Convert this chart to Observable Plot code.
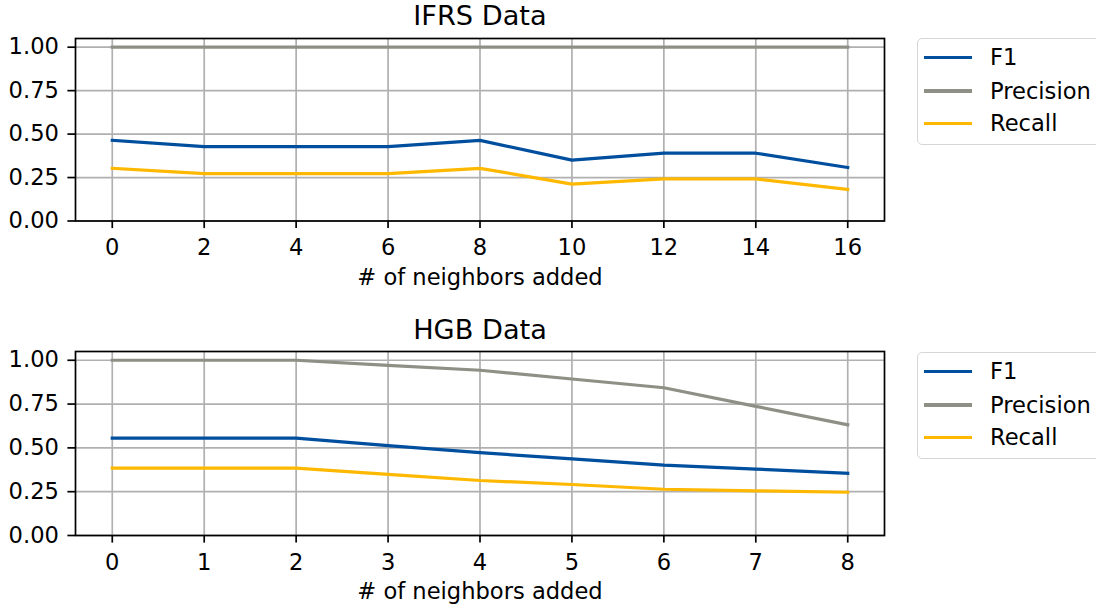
<!DOCTYPE html>
<html>
<head>
<meta charset="utf-8">
<script src="https://cdn.jsdelivr.net/npm/d3@7"></script>
<script src="https://cdn.jsdelivr.net/npm/@observablehq/plot@0.6"></script>
<style>
  body { margin: 0; background: white; }
  #wrap { position: relative; width: 1096px; height: 609px; overflow: hidden; background: white; font-family: "DejaVu Sans", sans-serif; }
  .panel { position: absolute; left: 0; }
  .legend { position: absolute; left: 917px; width: 200px; height: 107px; border: 1.5px solid #d6d6d6; border-radius: 5px; box-sizing: border-box; background: white; }
  .legend .row { position: absolute; left: 0; height: 0; }
  .legend .swatch { position: absolute; left: 6px; width: 48px; height: 3.2px; top: -1.6px; }
  .legend .lab { position: absolute; left: 72px; top: -13.5px; font-size: 22.6px; line-height: 27px; white-space: nowrap; color: #000; }
</style>
</head>
<body>
<div id="wrap"></div>
<script>
// ---- data ----
const metrics = ["F1", "Precision", "Recall"];
const metricColors = ["#004f9f", "#8e8f85", "#ffb800"];

const ifrsX = [0, 2, 4, 6, 8, 10, 12, 14, 16];
const ifrsF1 = [0.464, 0.428, 0.428, 0.428, 0.464, 0.350, 0.390, 0.390, 0.308];
const ifrsPrecision = [1, 1, 1, 1, 1, 1, 1, 1, 1];
const ifrsRecall = [0.303, 0.273, 0.273, 0.273, 0.303, 0.212, 0.242, 0.242, 0.182];

const hgbX = [0, 1, 2, 3, 4, 5, 6, 7, 8];
const hgbF1 = [0.556, 0.556, 0.556, 0.513, 0.473, 0.437, 0.402, 0.379, 0.355];
const hgbPrecision = [1, 1, 1, 0.971, 0.943, 0.893, 0.843, 0.737, 0.632];
const hgbRecall = [0.385, 0.385, 0.385, 0.349, 0.314, 0.291, 0.264, 0.255, 0.247];

const yTicks = [0, 0.25, 0.5, 0.75, 1.0];
const ifrsXTicks = [0, 2, 4, 6, 8, 10, 12, 14, 16];
const hgbXTicks = [0, 1, 2, 3, 4, 5, 6, 7, 8];

const xLabel = "# of neighbors added";

function makeRows(xs, f1, prec, rec) {
  const rows = [];
  const series = [f1, prec, rec];
  metrics.forEach((m, k) => xs.forEach((x, i) => rows.push({x, y: series[k][i], metric: m})));
  return rows;
}

function panel(opts) {
  const rows = makeRows(opts.xs, opts.f1, opts.prec, opts.rec);
  const pad = (opts.xs[opts.xs.length - 1] - opts.xs[0]) * 0.05;
  return Plot.plot({
    width: 1096,
    height: opts.height,
    marginLeft: 75,
    marginRight: 212,
    marginTop: opts.marginTop,
    marginBottom: opts.marginBottom,
    style: {fontFamily: "DejaVu Sans, sans-serif", fontSize: "22.6px", color: "#000", background: "white", overflow: "visible"},
    x: {domain: [opts.xs[0] - pad, opts.xs[opts.xs.length - 1] + pad]},
    y: {domain: [0, 1.05]},
    color: {domain: metrics, range: metricColors},
    marks: [
      Plot.gridX(opts.xTicks, {stroke: "#b0b0b0", strokeOpacity: 1, strokeWidth: 1.7}),
      Plot.gridY(yTicks, {stroke: "#b0b0b0", strokeOpacity: 1, strokeWidth: 1.7}),
      Plot.line(rows, {x: "x", y: "y", stroke: "metric", z: "metric", strokeWidth: 3.2, strokeLinejoin: "round", strokeLinecap: "square"}),
      Plot.axisX({ticks: opts.xTicks, tickSize: 7.6, tickPadding: 10.5, strokeWidth: 1.7, label: null, fontSize: 22.6, tickFormat: d3.format("d")}),
      Plot.axisY({ticks: yTicks, tickSize: 7.6, tickPadding: 9, strokeWidth: 1.7, label: null, fontSize: 22.6, tickFormat: d3.format(".2f")}),
      Plot.frame({stroke: "#000", strokeWidth: 1.7}),
      Plot.text([opts.title], {text: d => d, frameAnchor: "top", lineAnchor: "middle", dy: opts.titleDy, fontSize: 27.2}),
      Plot.text([xLabel], {text: d => d, frameAnchor: "bottom", lineAnchor: "middle", dy: opts.labelDy, fontSize: 22.6})
    ]
  });
}

function legend(top) {
  const div = document.createElement("div");
  div.className = "legend";
  div.style.top = top + "px";
  const rowsY = [18.7, 52, 84.7];
  metrics.forEach((m, i) => {
    const r = document.createElement("div");
    r.className = "row";
    r.style.top = rowsY[i] + "px";
    const s = document.createElement("div");
    s.className = "swatch";
    s.style.background = metricColors[i];
    const t = document.createElement("div");
    t.className = "lab";
    t.textContent = m;
    r.appendChild(s);
    r.appendChild(t);
    div.appendChild(r);
  });
  return div;
}

const wrap = document.getElementById("wrap");

const p1 = panel({title: "IFRS Data", xs: ifrsX, f1: ifrsF1, prec: ifrsPrecision, rec: ifrsRecall, xTicks: ifrsXTicks,
  height: 304, marginTop: 38, marginBottom: 83.5, titleDy: -22.5, labelDy: 57});
const d1 = document.createElement("div");
d1.className = "panel"; d1.style.top = "0px";
d1.appendChild(p1);
wrap.appendChild(d1);

const p2 = panel({title: "HGB Data", xs: hgbX, f1: hgbF1, prec: hgbPrecision, rec: hgbRecall, xTicks: hgbXTicks,
  height: 305, marginTop: 47, marginBottom: 74, titleDy: -21, labelDy: 56});
const d2 = document.createElement("div");
d2.className = "panel"; d2.style.top = "304px";
d2.appendChild(p2);
wrap.appendChild(d2);

wrap.appendChild(legend(38));
wrap.appendChild(legend(352));
</script>
</body>
</html>
